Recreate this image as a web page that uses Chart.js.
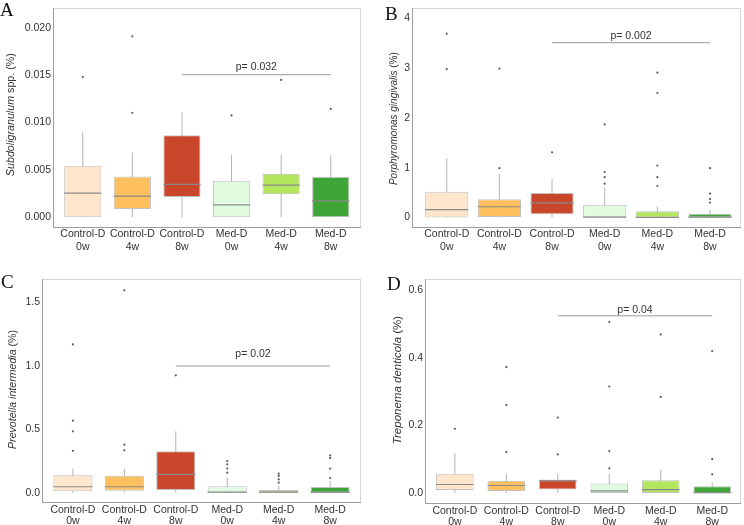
<!DOCTYPE html>
<html>
<head>
<meta charset="utf-8">
<script src="https://cdn.jsdelivr.net/npm/chart.js@4.4.1/dist/chart.umd.min.js"></script>
<style>
  body { margin: 0; background: #fff; width: 744px; height: 525px; position: relative; overflow: hidden; }
  canvas { position: absolute; }
  .tag { position: absolute; font-family: "Liberation Serif", "DejaVu Serif", serif; font-size: 19px; line-height: 19px; color: #111; }
</style>
</head>
<body>
<canvas id="cA" width="372" height="262" style="left:0;top:0"></canvas>
<canvas id="cB" width="372" height="262" style="left:372px;top:0"></canvas>
<canvas id="cC" width="372" height="263" style="left:0;top:262px"></canvas>
<canvas id="cD" width="372" height="263" style="left:372px;top:262px"></canvas>
<div class="tag" style="left:0;top:0">A</div>
<div class="tag" style="left:385px;top:4px">B</div>
<div class="tag" style="left:1px;top:272px">C</div>
<div class="tag" style="left:387px;top:274px">D</div>
<script>
// groups on the x axis
const groupNames = ['Control-D', 'Control-D', 'Control-D', 'Med-D', 'Med-D', 'Med-D'];
const groupWeeks = ['0w', '4w', '8w', '0w', '4w', '8w'];
const boxColors = ['#fee6cc', '#fec05f', '#c9462b', '#e1fbe0', '#b3e65c', '#3ea636'];

// A - Subdoligranulum spp.
const subLow  = [0, 0, 0, 0, 0, 0];
const subQ1   = [0, 0.00086, 0.00213, 0, 0.00244, 0];
const subMed  = [0.00254, 0.00224, 0.00347, 0.00131, 0.0034, 0.00172];
const subQ3   = [0.00543, 0.0043, 0.00866, 0.00385, 0.0046, 0.00426];
const subHigh = [0.00897, 0.00684, 0.0111, 0.00656, 0.00656, 0.00656];
const subOut  = [[0.0148], [0.0191, 0.01103], [], [0.01075], [0.0145], [0.01144]];
const subTicks = [0, 0.005, 0.010, 0.015, 0.020];
const subP = 0.01505;

// B - Porphyromonas gingivalis
const pgLow  = [0, 0, 0, 0, 0, 0];
const pgQ1   = [0, 0.013, 0.065, 0, 0, 0];
const pgMed  = [0.157, 0.216, 0.294, 0.007, 0.005, 0.01];
const pgQ3   = [0.52, 0.366, 0.49, 0.255, 0.124, 0.078];
const pgHigh = [1.19, 0.88, 0.78, 0.6, 0.22, 0.157];
const pgOut  = [[2.98, 3.69], [0.99, 2.99], [1.31], [0.68, 0.81, 0.914, 1.87], [0.633, 0.81, 1.045, 2.50, 2.91], [0.30, 0.37, 0.48, 0.99]];
const pgTicks = [0, 1, 2, 3, 4];
const pgP = 3.51;

// C - Prevotella intermedia
const piLow  = [0, 0, 0, 0, 0, 0];
const piQ1   = [0.011, 0.016, 0.021, 0, 0, 0];
const piMed  = [0.047, 0.047, 0.145, 0.005, 0.005, 0.005];
const piQ3   = [0.137, 0.134, 0.326, 0.05, 0.021, 0.045];
const piHigh = [0.19, 0.19, 0.484, 0.116, 0.053, 0.095];
const piOut  = [[0.33, 0.484, 0.568, 1.17], [0.334, 0.379, 1.597], [0.926], [0.158, 0.19, 0.224, 0.25], [0.079, 0.105, 0.132, 0.15], [0.116, 0.19, 0.274, 0.295]];
const piTicks = [0, 0.5, 1.0, 1.5];
const piP = 1.0;

// D - Treponema denticola
const tdLow  = [0, 0, 0, 0, 0, 0];
const tdQ1   = [0.009, 0.006, 0.010, 0, 0, 0];
const tdMed  = [0.025, 0.022, 0.0356, 0.006, 0.010, 0.001];
const tdQ3   = [0.057, 0.036, 0.0398, 0.028, 0.0377, 0.02];
const tdHigh = [0.118, 0.056, 0.0575, 0.0575, 0.069, 0.032];
const tdOut  = [[0.19], [0.121, 0.26, 0.372], [0.114, 0.223], [0.073, 0.124, 0.315, 0.506], [0.284, 0.469], [0.055, 0.10, 0.42]];
const tdTicks = [0, 0.2, 0.4, 0.6];
const tdP = 0.524;

Chart.defaults.font.family = '"Liberation Sans", Arial, sans-serif';
Chart.defaults.font.size = 10.5;
Chart.defaults.color = '#333';

const FONT = '"Liberation Sans", Arial, sans-serif';

const boxExtras = {
    id: 'boxExtras',
    beforeDatasetsDraw(chart, args, opts) {
        const a = chart.chartArea;
        const ctx = chart.ctx;
        ctx.save();
        ctx.lineWidth = 1;
        ctx.strokeStyle = '#d6d6d6';
        ctx.strokeRect(Math.round(a.left) + 0.5, Math.round(a.top) + 0.5,
            Math.round(a.right - a.left), Math.round(a.bottom - a.top));
        ctx.strokeStyle = '#9e9e9e';
        ctx.beginPath();
        ctx.moveTo(Math.round(a.left) + 0.5, Math.round(a.top));
        ctx.lineTo(Math.round(a.left) + 0.5, Math.round(a.bottom) + 0.5);
        ctx.lineTo(Math.round(a.right) + 1, Math.round(a.bottom) + 0.5);
        ctx.stroke();
        ctx.restore();
    },
    afterDraw(chart, args, opts) {
        const a = chart.chartArea;
        const ctx = chart.ctx;
        const x = chart.scales.x, y = chart.scales.y;
        ctx.save();
        // y axis title, genus in italics
        const cy = (a.top + a.bottom) / 2 + opts.titleDy;
        ctx.translate(opts.titleX, cy);
        ctx.rotate(-Math.PI / 2);
        ctx.fillStyle = '#333';
        ctx.textBaseline = 'middle';
        ctx.textAlign = 'left';
        const itFont = 'italic ' + opts.titleSize + 'px ' + FONT;
        const upFont = opts.titleSize + 'px ' + FONT;
        ctx.font = itFont;
        const w1 = ctx.measureText(opts.italic).width;
        ctx.font = upFont;
        const w2 = ctx.measureText(opts.rest).width;
        let sx = -(w1 + w2) / 2;
        ctx.font = itFont;
        ctx.fillText(opts.italic, sx, 0);
        ctx.font = upFont;
        ctx.fillText(opts.rest, sx + w1, 0);
        ctx.restore();
        // p-value label over the comparison line
        ctx.save();
        ctx.font = '10.5px ' + FONT;
        ctx.fillStyle = '#333';
        ctx.textAlign = 'center';
        ctx.textBaseline = 'middle';
        const px = (x.getPixelForValue(opts.pFrom) + x.getPixelForValue(opts.pTo)) / 2;
        ctx.fillText(opts.pText, px, y.getPixelForValue(opts.pY) - opts.pGap);
        ctx.restore();
    }
};

function makeChart(id, p) {
    const half = p.frac / 2;
    const idx = p.q1.map((v, i) => i);
    const boxes = idx.map(i => ({x: i, y: [p.q1[i], p.q3[i]]}));
    const whiskers = idx.flatMap(i => [{x: i, y: p.low[i]}, {x: i, y: p.high[i]}, {x: i, y: null}]);
    const medians = idx.flatMap(i => [{x: i - half, y: p.med[i]}, {x: i + half, y: p.med[i]}, {x: i, y: null}]);
    const outliers = idx.flatMap(i => p.out[i].map(v => ({x: i, y: v})));

    return new Chart(document.getElementById(id).getContext('2d'), {
        type: 'bar',
        data: {
            datasets: [{
                type: 'line',
                data: whiskers,
                borderColor: '#b3b3b3',
                borderWidth: 1,
                pointRadius: 0,
                spanGaps: false,
                order: 3
            }, {
                type: 'bar',
                data: boxes,
                backgroundColor: boxColors,
                borderColor: '#c2c2c2',
                borderWidth: 1,
                borderSkipped: false,
                categoryPercentage: p.frac,
                barPercentage: 1,
                order: 2
            }, {
                type: 'line',
                data: medians,
                borderColor: '#8a8a8a',
                borderWidth: 1.2,
                pointRadius: 0,
                spanGaps: false,
                order: 1
            }, {
                type: 'scatter',
                data: outliers,
                pointRadius: 1.1,
                pointBorderWidth: 0,
                backgroundColor: '#5a5a5a',
                order: 1
            }, {
                type: 'line',
                data: [{x: 2, y: p.pY}, {x: 5, y: p.pY}],
                borderColor: '#9a9a9a',
                borderWidth: 1,
                pointRadius: 0,
                order: 1
            }]
        },
        options: {
            responsive: false,
            animation: false,
            devicePixelRatio: 1,
            layout: { padding: { top: p.padTop, right: p.padRight, left: 0, bottom: 0 } },
            plugins: {
                legend: { display: false },
                tooltip: { enabled: false },
                boxExtras: {
                    italic: p.italic, rest: p.rest, titleX: p.titleX, titleDy: p.titleDy, titleSize: p.titleSize,
                    pText: p.pText, pY: p.pY, pFrom: 2, pTo: 5, pGap: p.pGap
                }
            },
            scales: {
                x: {
                    type: 'linear',
                    min: p.xMin,
                    max: p.xMax,
                    offset: false,
                    grid: { display: false, drawTicks: false, offset: false },
                    border: { display: false },
                    afterBuildTicks: s => { s.ticks = idx.map(i => ({value: i})); },
                    afterFit: s => { s.height = p.xHeight; },
                    ticks: {
                        autoSkip: false,
                        maxRotation: 0,
                        padding: p.xPad,
                        color: '#333',
                        font: { size: 10.5, lineHeight: p.xLine },
                        callback: v => [groupNames[Math.round(v)], groupWeeks[Math.round(v)]]
                    }
                },
                y: {
                    type: 'linear',
                    min: p.yMin,
                    max: p.yMax,
                    grid: { display: false, drawTicks: false },
                    border: { display: false },
                    afterBuildTicks: s => { s.ticks = p.ticks.map(v => ({value: v})); },
                    afterFit: s => { s.width = p.yWidth; },
                    ticks: {
                        padding: 2,
                        color: '#333',
                        font: { size: 10.5 },
                        callback: v => v.toFixed(p.dec)
                    }
                }
            }
        },
        plugins: [boxExtras]
    });
}

window.onload = function () {
    makeChart('cA', {
        low: subLow, q1: subQ1, med: subMed, q3: subQ3, high: subHigh, out: subOut,
        ticks: subTicks, dec: 3, yMin: -0.00103, yMax: 0.02206, xMin: -0.6, xMax: 5.59,
        frac: 0.75, padTop: 3, padRight: 12, yWidth: 53, xHeight: 35, xPad: 1, xLine: 1.2,
        italic: 'Subdoligranulum', rest: ' spp. (%)', titleX: 11.5, titleDy: -3, titleSize: 10.7,
        pText: 'p= 0.032', pY: subP, pGap: 8
    });
    makeChart('cB', {
        low: pgLow, q1: pgQ1, med: pgMed, q3: pgQ3, high: pgHigh, out: pgOut,
        ticks: pgTicks, dec: 0, yMin: -0.19, yMax: 4.2, xMin: -0.66, xMax: 5.57,
        frac: 0.82, padTop: 3, padRight: 2, yWidth: 40, xHeight: 35, xPad: 1, xLine: 1.2,
        italic: 'Porphyromonas gingivalis', rest: ' (%)', titleX: 22, titleDy: 1, titleSize: 10,
        pText: 'p= 0.002', pY: pgP, pGap: 7
    });
    makeChart('cC', {
        low: piLow, q1: piQ1, med: piMed, q3: piQ3, high: piHigh, out: piOut,
        ticks: piTicks, dec: 1, yMin: -0.0735, yMax: 1.686, xMin: -0.6, xMax: 5.58,
        frac: 0.76, padTop: 17, padRight: 12, yWidth: 42, xHeight: 23, xPad: 3, xLine: 1.02,
        italic: 'Prevotella intermedia', rest: ' (%)', titleX: 13.3, titleDy: -1, titleSize: 10.6,
        pText: 'p= 0.02', pY: piP, pGap: 12
    });
    makeChart('cD', {
        low: tdLow, q1: tdQ1, med: tdMed, q3: tdQ3, high: tdHigh, out: tdOut,
        ticks: tdTicks, dec: 1, yMin: -0.0297, yMax: 0.633, xMin: -0.58, xMax: 5.54,
        frac: 0.73, padTop: 17, padRight: 1, yWidth: 53, xHeight: 22, xPad: 3, xLine: 1.02,
        italic: 'Treponema denticola', rest: ' (%)', titleX: 26, titleDy: -11, titleSize: 11.5,
        pText: 'p= 0.04', pY: tdP, pGap: 6
    });
};
</script>
</body>
</html>
